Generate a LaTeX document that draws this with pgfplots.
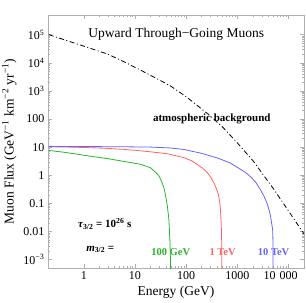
\documentclass[border=0pt]{standalone}
\usepackage{fontspec}
\setmainfont{Liberation Serif}
\usepackage{pgfplots}
\pgfplotsset{compat=1.18}
\definecolor{cgreen}{RGB}{40,180,40}
\definecolor{cred}{RGB}{255,100,100}
\definecolor{cblue}{RGB}{100,100,255}
\definecolor{framegray}{RGB}{175,175,175}
\begin{document}
\begin{tikzpicture}
\useasboundingbox (-48pt,-35pt) rectangle (258pt,268pt);
\begin{axis}[
  at={(0,0)}, anchor=south west,
  xmode=log, ymode=log,
  scale only axis, width=256pt, height=253pt,
  xmin=0.2, xmax=20000, ymin=5e-4, ymax=5e5,
  axis line style={framegray, line width=0.5pt},
  every tick/.style={framegray, line width=0.4pt},
  major tick length=4pt, minor tick length=2pt,
  tick align=inside,
  xtick={1,10,100,1000,10000},
  xticklabels={1,10,100,1000,{\hspace*{-16pt}10\hspace{4pt}000}},
  ytick={1e-3,1e-2,0.1,1,10,100,1e3,1e4,1e5},
  yticklabels={10\textsuperscript{−3},0.01,0.1,1,10,100,10\textsuperscript{3},10\textsuperscript{4},10\textsuperscript{5}},
  ticklabel style={font=\fontsize{12}{14}\selectfont},
  label style={font=\fontsize{13.5}{16}\selectfont},
  xlabel={Energy (GeV)},
  ylabel={Muon Flux (GeV\textsuperscript{−1} km\textsuperscript{−2} yr\textsuperscript{−1})},
  clip=true,
]
\addplot[black, line width=0.8pt, dash pattern=on 5pt off 2.5pt on 1pt off 2.5pt] coordinates {
(0.207,1.0e5) (0.5,5.9e4) (1,3.9e4) (2.9,2.05e4) (6,1.1e4) (13.8,5.1e3) (25,2.9e3) (49,1.51e3) (100,6.2e2) (270,1.48e2) (530,49) (1000,14) (2040,3.2) (3170,1.06) (5000,0.34) (6700,0.155) (10000,0.053) (17600,0.0115) (20000,0.0082)
};
\addplot[cgreen, line width=0.8pt] coordinates {
(0.207,7.6) (0.4,6.6) (0.65,5.8) (1.5,4.6) (2.9,3.9) (6,3.1) (12.9,2.45) (20,1.85) (25,1.3) (29.5,0.94) (33,0.6) (36.8,0.36) (40,0.17) (42.7,0.085) (46,0.026) (48,0.005) (49.3,0.001) (50,0.0001)
};
\addplot[cred, line width=0.8pt] coordinates {
(0.207,10.3) (0.5,10.0) (1,9.7) (2.9,9.0) (6,8.3) (10,7.7) (20,6.8) (43,5.8) (91,4.2) (130,3.2) (165,2.4) (210,1.75) (259,1.24) (300,0.85) (348,0.54) (390,0.33) (424,0.21) (450,0.12) (464,0.07) (484,0.018) (494,0.004) (500,0.0001)
};
\addplot[cblue, line width=0.8pt] coordinates {
(0.207,10.6) (1,10.45) (5,10.3) (20,10.0) (50,9.3) (91,8.2) (200,6.0) (406,4.1) (700,2.8) (1000,1.9) (1400,1.3) (1800,0.89) (2300,0.55) (2830,0.30) (3300,0.18) (3800,0.10) (4200,0.055) (4450,0.034) (4700,0.018) (4880,0.0115) (4960,0.004) (5000,0.0001)
};
\node[font=\fontsize{13.5}{16}\selectfont] at (axis cs:64,1e5) {Upward Through−Going Muons};
\node[font=\bfseries\fontsize{11}{13}\selectfont] at (axis cs:316,104) {atmospheric background};
\node[font=\bfseries\fontsize{11}{13}\selectfont] at (axis cs:2.57,0.0186) {{\itshape τ}\textsubscript{3/2} = 10\textsuperscript{26} s};
\node[font=\bfseries\fontsize{11}{13}\selectfont] at (axis cs:2.1,0.00226) {{\itshape m}\textsubscript{3/2} =};
\node[text=cgreen, font=\bfseries\fontsize{10.5}{12}\selectfont] at (axis cs:50,0.0019) {100 GeV};
\node[text=cred, font=\bfseries\fontsize{10.5}{12}\selectfont] at (axis cs:514,0.0019) {1 TeV};
\node[text=cblue, font=\bfseries\fontsize{10.5}{12}\selectfont] at (axis cs:5100,0.0019) {10 TeV};
\end{axis}
\end{tikzpicture}
\end{document}
